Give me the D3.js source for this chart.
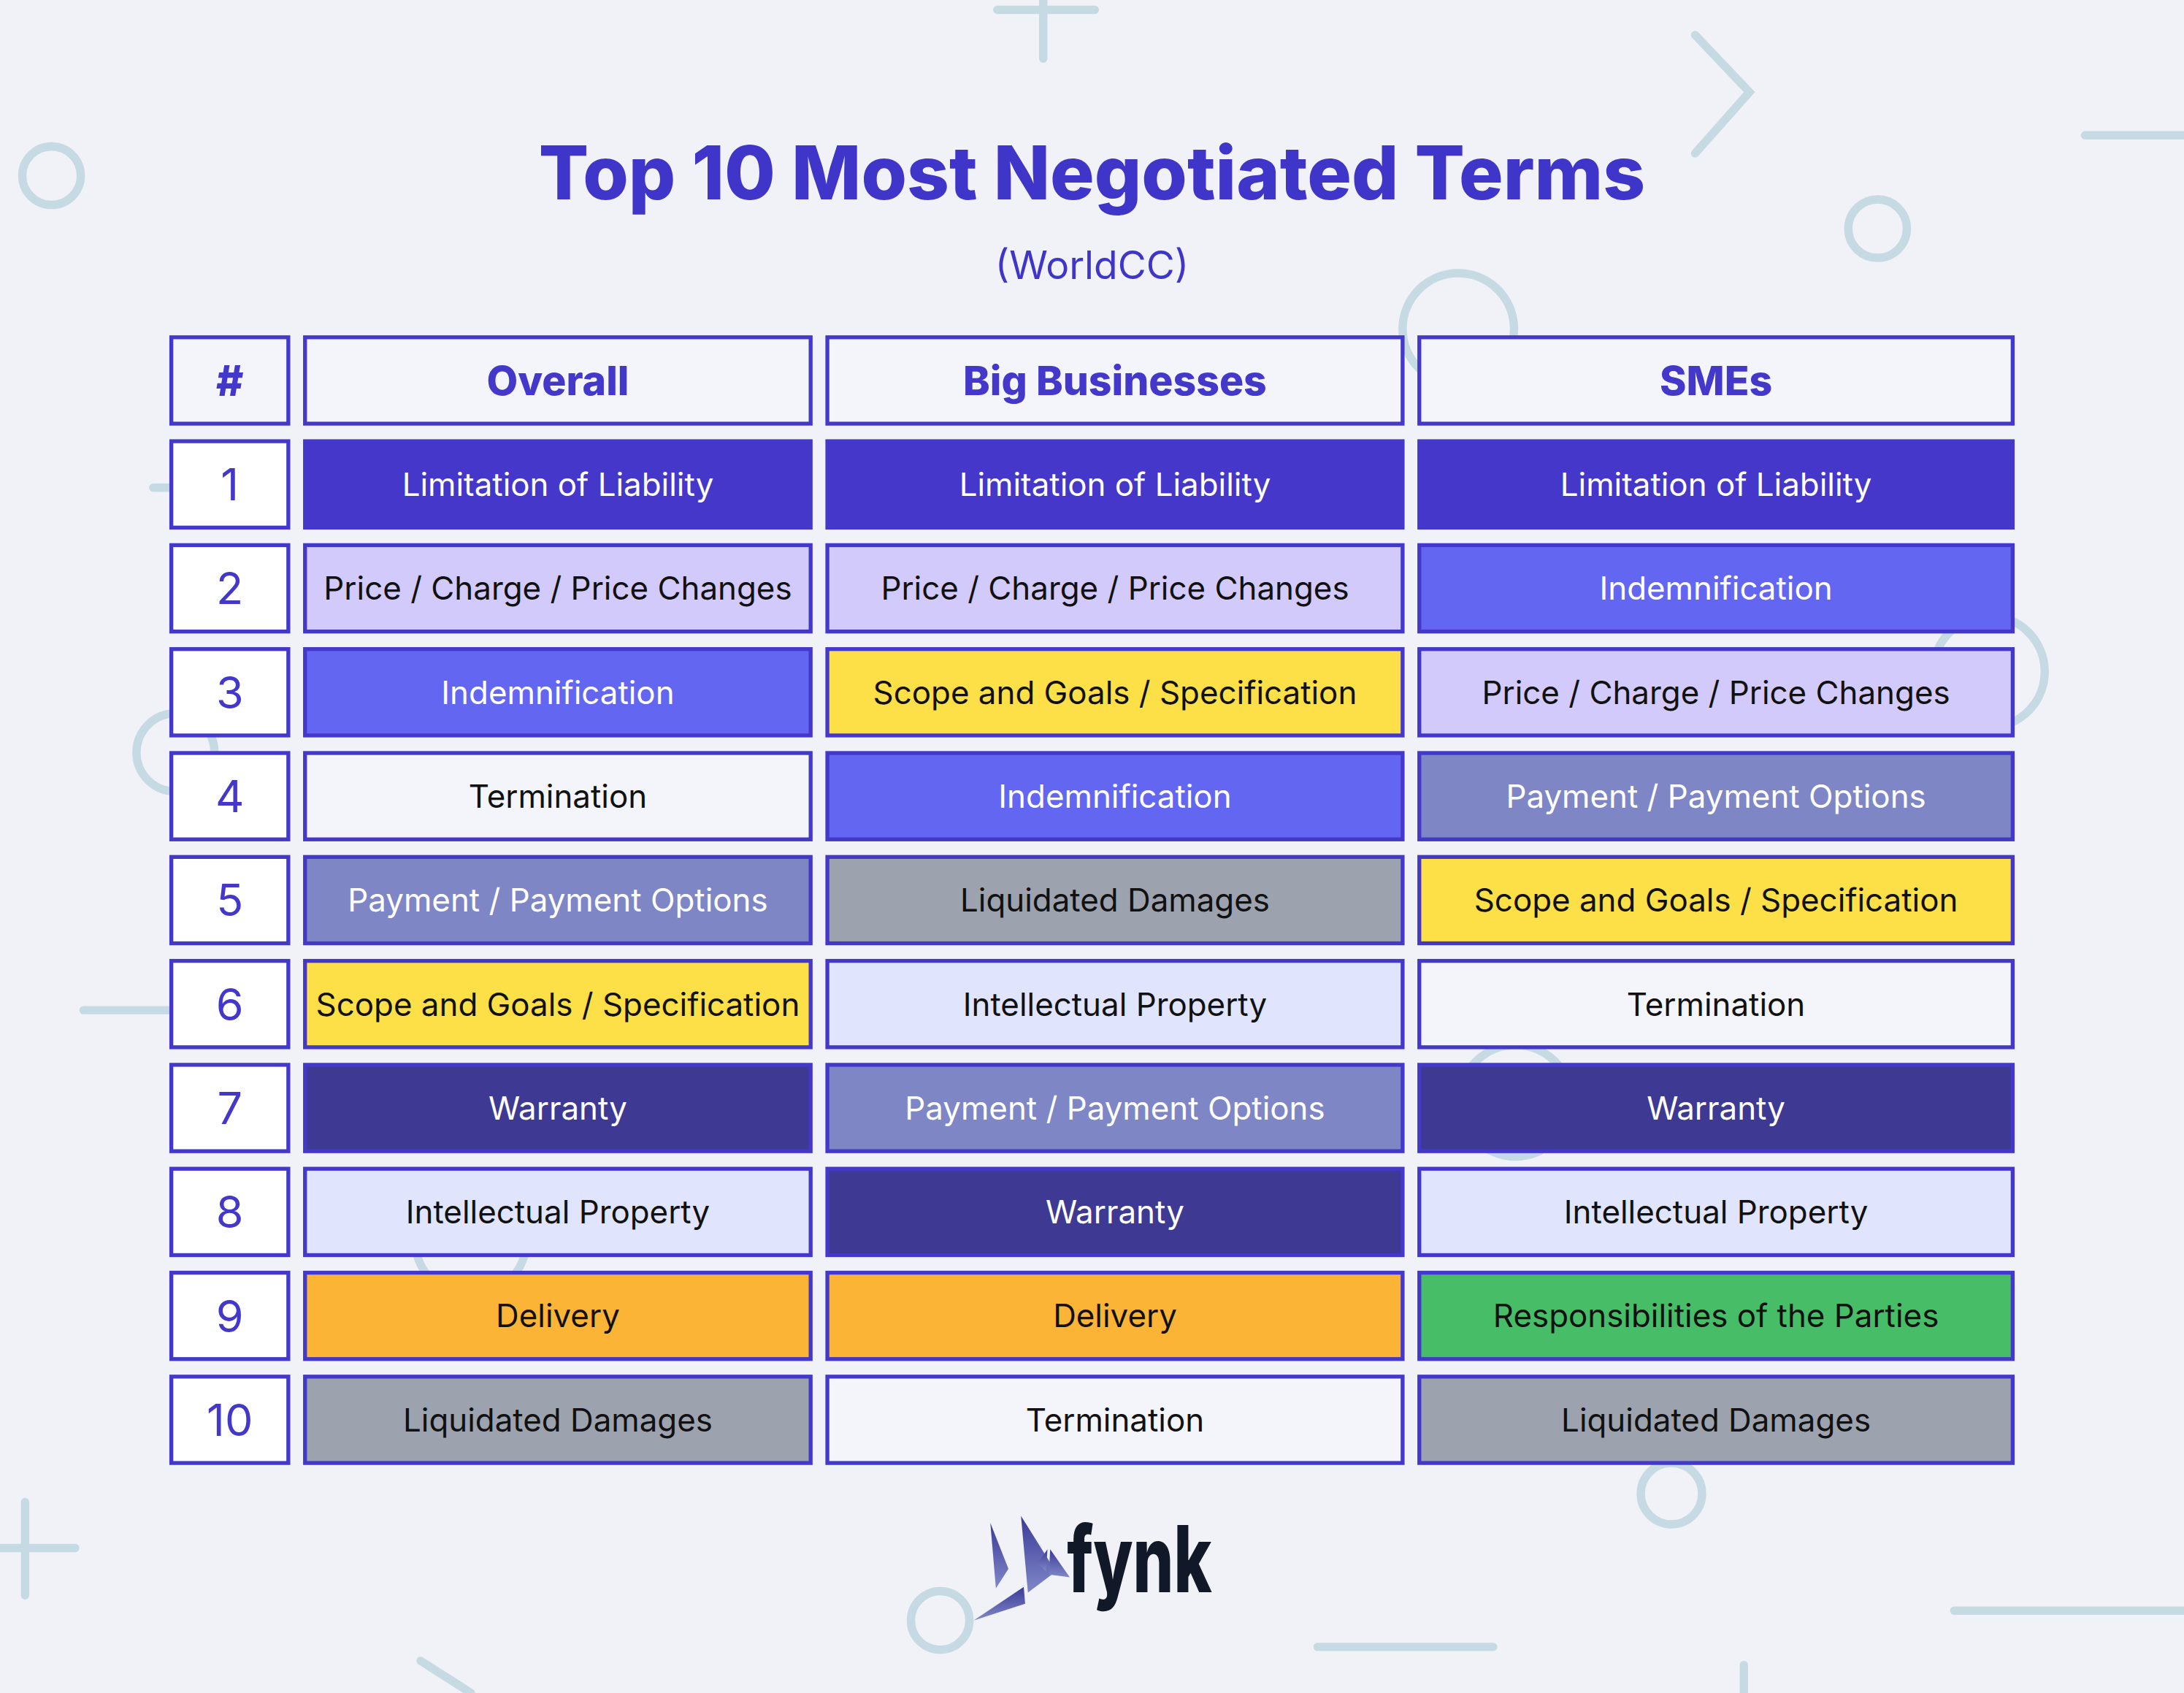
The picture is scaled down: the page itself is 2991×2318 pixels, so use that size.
<!DOCTYPE html>
<html><head><meta charset="utf-8">
<script src="https://cdn.jsdelivr.net/npm/d3@7"></script>
<style>html,body{margin:0;padding:0;background:#f1f2f8;}svg{display:block;}</style>
</head><body>
<script>
const columns = ["Overall", "Big Businesses", "SMEs"];
const ranks = [1,2,3,4,5,6,7,8,9,10];
const overall = ["Limitation of Liability","Price / Charge / Price Changes","Indemnification","Termination","Payment / Payment Options","Scope and Goals / Specification","Warranty","Intellectual Property","Delivery","Liquidated Damages"];
const bigBusinesses = ["Limitation of Liability","Price / Charge / Price Changes","Scope and Goals / Specification","Indemnification","Liquidated Damages","Intellectual Property","Payment / Payment Options","Warranty","Delivery","Termination"];
const smes = ["Limitation of Liability","Indemnification","Price / Charge / Price Changes","Payment / Payment Options","Scope and Goals / Specification","Termination","Warranty","Intellectual Property","Responsibilities of the Parties","Liquidated Damages"];
const termNames = ["Limitation of Liability","Price / Charge / Price Changes","Indemnification","Termination","Payment / Payment Options","Scope and Goals / Specification","Warranty","Intellectual Property","Delivery","Liquidated Damages","Responsibilities of the Parties"];
const termFills = ["#4437c9","#d3cafc","#6366f0","#f4f5fb","#7e86c6","#fde047","#3e3a94","#e0e5fd","#fbb436","#9ca3af","#47bd68"];
const termText = ["#fff","#111","#fff","#111","#fff","#111","#fff","#111","#111","#111","#111"];
const colData = [overall, bigBusinesses, smes];

const W=1568,H=1215, B="#4338ca";
const svg=d3.select("body").append("svg").attr("width",2991).attr("height",2318).attr("viewBox",`0 0 ${W} ${H}`);
svg.append("rect").attr("width",W).attr("height",H).attr("fill","#f1f2f8");

const deco=svg.append("g").attr("fill","none").attr("stroke","#c6dae4").attr("stroke-width",6).attr("stroke-linecap","round");
[[37,126,21],[1348,164,21],[1047,236,40],[1200,1072,22],[675,1163,21],[1428,482,40],[126,540,28],[338,890,40],[1088,790,40]].forEach(c=>deco.append("circle").attr("cx",c[0]).attr("cy",c[1]).attr("r",c[2]));
[[[749,0],[749,42]],[[716,7],[786,7]],[[1217,25],[1256,66],[1217,110]],[[1497,97],[1568,97]],[[18,1078],[18,1145]],[[0,1111],[54,1111]],[[60,725],[122,725]],[[946,1182],[1072,1182]],[[1403,1156],[1568,1156]],[[302,1192],[338,1215]],[[1252,1195],[1252,1215]],[[110,350],[123,350]]].forEach(p=>deco.append("path").attr("d",d3.line()(p)));

svg.append("text").attr("x",784).attr("y",143).attr("text-anchor","middle").attr("font-family","Inter").attr("font-weight",800).attr("font-size",53).attr("fill","#3f35c9").text("Top 10 Most Negotiated Terms");
svg.append("text").attr("x",784).attr("y",200).attr("text-anchor","middle").attr("font-family","Inter").attr("font-size",28).attr("fill","#3f35c9").text("(WorldCC)");

const colX=[123,219,594,1019], colW=[84,363,413,426];
const y=d3.scaleBand().domain(["h",...ranks]).range([242,1050]).paddingInner(0.169);
const fillOf=d3.scaleOrdinal(termNames,termFills), txtOf=d3.scaleOrdinal(termNames,termText);
const g=svg.append("g");
function cell(x,w,yy,fill,stroke,txt,tc,fs,fw){
  g.append("rect").attr("x",x).attr("y",yy).attr("width",w).attr("height",y.bandwidth()).attr("fill",fill).attr("stroke",stroke).attr("stroke-width",2.8);
  g.append("text").attr("x",x+w/2).attr("y",yy+y.bandwidth()/2).attr("dy","0.36em").attr("text-anchor","middle").attr("font-family","Inter").attr("font-size",fs).attr("font-weight",fw).attr("fill",tc).text(txt);
}
cell(colX[0],colW[0],y("h"),"#f4f5fb",B,"#",B,30,800);
columns.forEach((c,i)=>cell(colX[i+1],colW[i+1],y("h"),"#f4f5fb",B,c,B,29,800));
ranks.forEach((r,ri)=>{
  cell(colX[0],colW[0],y(r),"#fff",B,r,B,32,400);
  colData.forEach((arr,ci)=>{const t=arr[ri];cell(colX[ci+1],colW[ci+1],y(r),fillOf(t),B,t,txtOf(t),23,400);});
});

// logo
const grad=svg.append("defs").append("linearGradient").attr("id","lg").attr("x1",0).attr("y1",0).attr("x2",0).attr("y2",1);
grad.append("stop").attr("offset",0).attr("stop-color","#3b3a97");grad.append("stop").attr("offset",1).attr("stop-color","#8088c8");
const lg=svg.append("g").attr("fill","url(#lg)");
[[[711,1093],[724,1126],[715,1140]],[[733,1088],[758,1128],[738,1143]],[[745,1122],[752,1112],[751,1128]],[[754,1112],[768,1132],[753,1130]],[[735,1139],[736,1151],[699,1163]]].forEach(p=>lg.append("path").attr("d",d3.line()(p)+"Z"));
svg.append("text").attr("x",766).attr("y",1143).attr("font-family","Inter").attr("font-weight",800).attr("font-size",66).attr("textLength",104).attr("lengthAdjust","spacingAndGlyphs").attr("fill","#111827").text("fynk");
</script>
</body></html>
